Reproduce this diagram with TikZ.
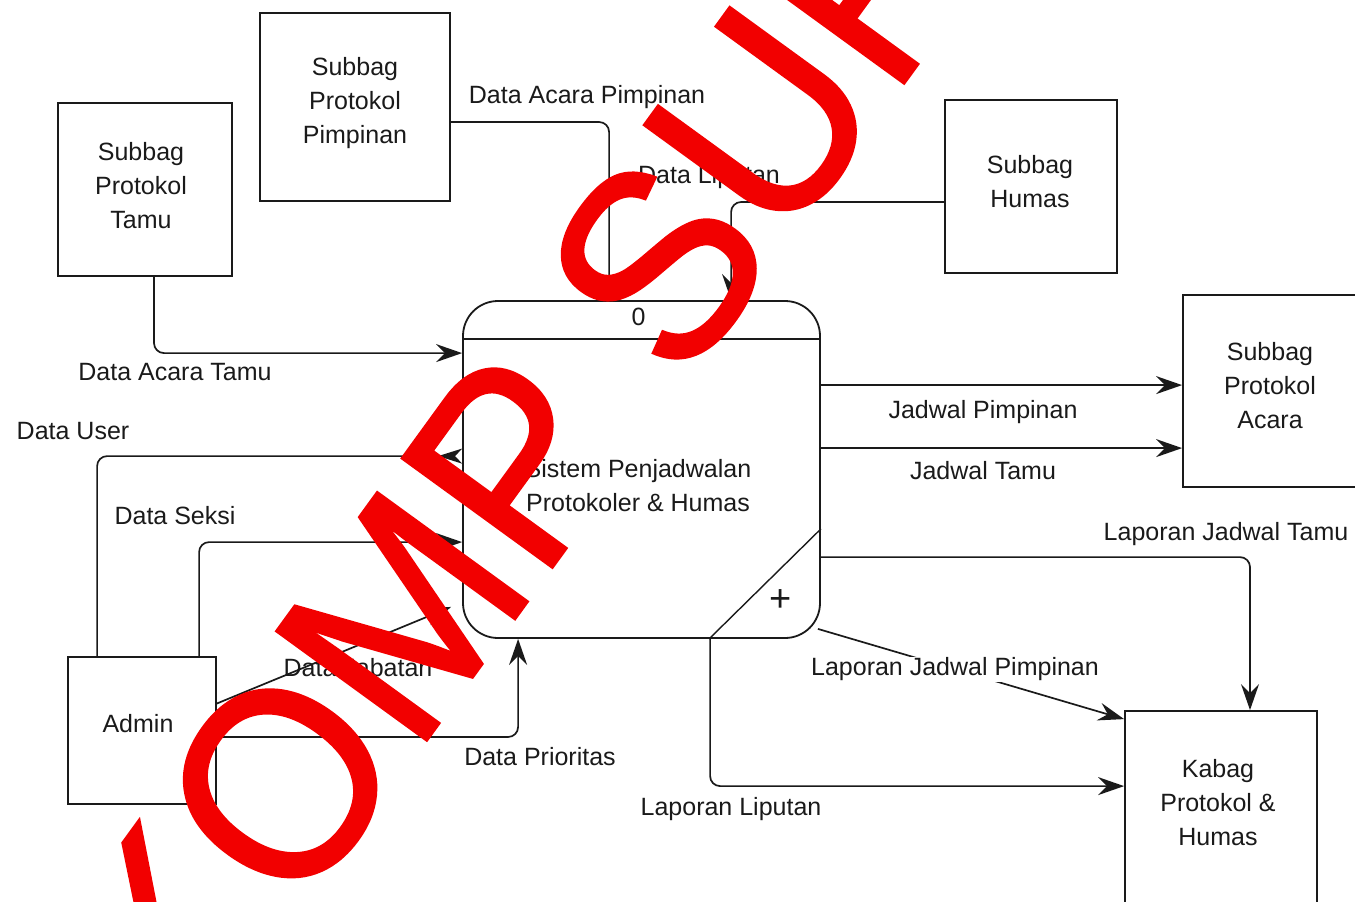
\documentclass[tikz,border=0pt]{standalone}
\usepackage{fontspec}
\setmainfont{Liberation Sans}
\newfontfamily\wmfont[FakeBold=1]{Liberation Sans}
\usetikzlibrary{arrows.meta,calc}
\definecolor{ink}{HTML}{1A1A1A}
\definecolor{wmred}{HTML}{F20000}
\begin{document}
\begin{tikzpicture}[x=1pt,y=-1pt,
  every node/.style={font=\fontsize{25}{34}\selectfont, text=ink},
  entity/.style={draw=ink, line width=1.8pt, rectangle, inner sep=0pt},
  boxtext/.style={align=center, inner sep=0pt},
  process/.style={draw=ink, line width=1.8pt, rounded corners=35pt, inner sep=0pt,
    minimum width=357pt, minimum height=337pt},
  flowlbl/.style={inner sep=1pt, text height=18pt, text depth=5pt},
  flow/.style={draw=ink, line width=1.7pt, rounded corners=10pt,
    -{Stealth[length=26pt,width=18pt,inset=9pt]}},
  flowback/.style={draw=ink, line width=1.7pt, rounded corners=10pt,
    -{Stealth[length=24pt,width=15pt,inset=7pt,reversed]}},
  wm/.style={inner sep=0pt, text=wmred, font=\wmfont\fontsize{270}{270}\selectfont}
]
\useasboundingbox (0,0) rectangle (1355,902);

% external entities
\node[entity, minimum width=174pt, minimum height=173pt] (tamu)  at (145,189.5) {};
\node[boxtext] (tamutext) at (141,186) {Subbag\\Protokol\\Tamu};
\node[entity, minimum width=190pt, minimum height=188pt] (pimp)  at (355,107) {};
\node[boxtext] (pimptext) at (355,103) {Subbag\\Protokol\\Pimpinan};
\node[entity, minimum width=172pt, minimum height=173pt] (humas) at (1031,186.5) {};
\node[boxtext] (humastext) at (1030,182) {Subbag\\Humas};
\node[entity, minimum width=174pt, minimum height=192pt] (acara) at (1270,391) {};
\node[boxtext] (acaratext) at (1270,386) {Subbag\\Protokol\\Acara};
\node[entity, minimum width=192pt, minimum height=210pt] (kabag) at (1221,816) {};
\node[boxtext] (kabagtext) at (1218,803) {Kabag\\Protokol \&\\Humas};
\node[entity, minimum width=148pt, minimum height=147pt] (admin) at (142,730.5) {};
\node[boxtext] (admintext) at (138,724) {Admin};

% process 0
\node[process] (proc) at (641.5,469.5) {};
\draw[draw=ink, line width=1.8pt] ($(proc.north west)+(0,39)$) -- ($(proc.north east)+(0,39)$);
\node (pnum) at ($(proc.north)+(-3,17)$) {0};
\node[boxtext] (ptext) at (638,486) {Sistem Penjadwalan\\Protokoler \& Humas};
\draw[draw=ink, line width=1.4pt] ($(proc.south west)+(247,0)$) -- ($(proc.south east)+(0,-110)$);
\node[font=\fontsize{38}{38}\selectfont] (plus) at ($(proc.south east)+(-40,-38)$) {+};

% data flows
\draw[flow] ($(tamu.south)+(9,0)$) |- ($(proc.north west)+(0,53)$);
\draw[flow] ($(pimp.east)+(0,15)$) -| ($(proc.north west)+(147,0)$);
\draw[flow] ($(humas.west)+(0,15.5)$) -| ($(proc.north west)+(269,0)$);
\coordinate (jp) at ($(proc.north east)+(0,85)$);
\draw[flow] (jp) -- (jp -| acara.west);
\coordinate (jt) at ($(proc.north east)+(0,148)$);
\draw[flow] (jt) -- (jt -| acara.west);
\draw[flow] ($(proc.north east)+(0,257)$) -| ($(kabag.north)+(29,0)$);
\draw[flow] ($(proc.south east)+(-3,-10)$) -- ($(kabag.north west)+(0,9)$);
\draw[flow] ($(proc.south west)+(248,0)$) |- ($(kabag.north west)+(0,76)$);
\draw[flowback] ($(admin.north west)+(30,0)$) |- ($(proc.north west)+(0,156)$);
\draw[flow] ($(admin.north west)+(132,0)$) |- ($(proc.north west)+(0,242)$);
\draw[flow] ($(admin.east)+(0,-27)$) -- ($(proc.south west)+(-11,-32)$);
\draw[flow] ($(admin.east)+(0,6.5)$) -| ($(proc.south west)+(56,0)$);

% flow labels
\node[flowlbl] (lacarapimp) at (587,97)   {Data Acara Pimpinan};
\node[flowlbl] (lliputan)   at (709,177)  {Data Liputan};
\node[flowlbl] (lacaratamu) at (175,374)  {Data Acara Tamu};
\node[flowlbl] (luser)      at (73,433)   {Data User};
\node[flowlbl] (lseksi)     at (175,518)  {Data Seksi};
\node[flowlbl] (ljpimp)     at (983,412)  {Jadwal Pimpinan};
\node[flowlbl] (ljtamu)     at (983,473)  {Jadwal Tamu};
\node[flowlbl] (lljtamu)    at (1226,534) {Laporan Jadwal Tamu};
\node[flowlbl, fill=white]  (lljpimp) at (955,669) {Laporan Jadwal Pimpinan};
\node[flowlbl] (ljabatan)   at (358,670)  {Data Jabatan};
\node[flowlbl] (lprioritas) at (540,759)  {Data Prioritas};
\node[flowlbl] (lliput2)    at (731,809)  {Laporan Liputan};

% watermark stamp across the sheet
\node[wm, rotate=54, anchor=base west] (stamp) at (196.4,1057.4) {\scalebox{0.95}[1]{KOMP SUR}};
\end{tikzpicture}
\end{document}
